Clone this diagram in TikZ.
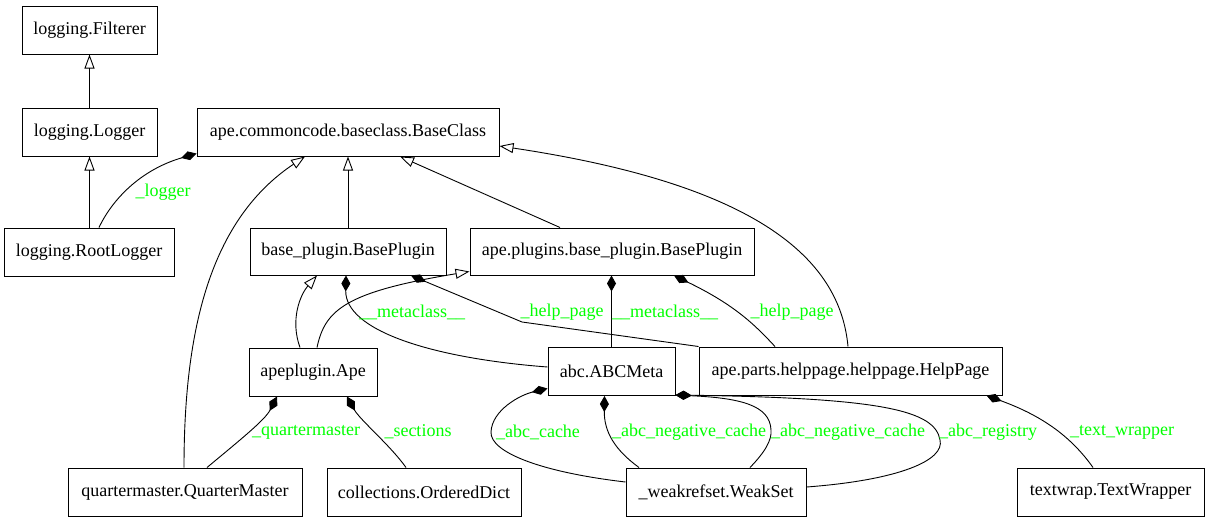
\documentclass[tikz,border=0pt]{standalone}
\usepackage{fontspec}
\newfontfamily\tms{LiberationSerif-Regular.ttf}
\usetikzlibrary{arrows.meta}
\definecolor{lblgreen}{RGB}{0,255,0}
\begin{document}
\begin{tikzpicture}[x=1pt,y=-1pt,
  box/.style={draw, line width=1pt, minimum height=48pt, inner sep=0pt, font=\tms\fontsize{18}{20}\selectfont},
  lbl/.style={text=lblgreen, font=\tms\fontsize{18}{20}\selectfont, inner sep=0pt},
  inh/.style={-{Triangle[open,length=14pt,width=10pt]}, line width=0.9pt},
  comp/.style={-{Diamond[length=16pt,width=9pt]}, line width=0.9pt}]
\useasboundingbox (0,0) rectangle (1209,523);
% nodes
\node[box, minimum width=135pt] (fil) at (89.5,30) {logging.Filterer};
\node[box, minimum width=135pt] (log) at (89.5,132) {logging.Logger};
\node[box, minimum width=170pt] (root) at (89,252) {logging.RootLogger};
\node[box, minimum width=302pt] (bc) at (348,132) {ape.commoncode.baseclass.BaseClass};
\node[box, minimum width=196pt, minimum height=47pt] (bp) at (348,251.5) {base\_plugin.BasePlugin};
\node[box, minimum width=284pt, minimum height=47pt] (apbp) at (612,251.5) {ape.plugins.base\_plugin.BasePlugin};
\node[box, minimum width=128pt] (ape) at (313,372) {apeplugin.Ape};
\node[box, minimum width=127pt] (abc) at (611.5,371.5) {abc.ABCMeta};
\node[box, minimum width=303pt] (help) at (850.5,371) {ape.parts.helppage.helppage.HelpPage};
\node[box, minimum width=234pt] (qm) at (185,492) {quartermaster.QuarterMaster};
\node[box, minimum width=194pt] (od) at (424,492) {collections.OrderedDict};
\node[box, minimum width=180pt] (ws) at (716,492) {\_weakrefset.WeakSet};
\node[box, minimum width=187pt] (tw) at (1110.5,492) {textwrap.TextWrapper};
% inheritance
\draw[inh] (log.north) -- (fil.south);
\draw[inh] (log.south |- root.north) -- (log.south);
\draw[inh] ([xshift=-1pt]qm.north) .. controls (184,330) and (210,220) .. ([xshift=-43pt]bc.south);
\draw[inh] (bp.north) -- (bc.south);
\draw[inh] ([xshift=-52pt]apbp.north) -- ([xshift=52pt]bc.south);
\draw[inh] ([xshift=-2.5pt]help.north) .. controls (840,260) and (760,185) .. ([yshift=-14pt]bc.east);
\draw[inh] ([xshift=-13pt]ape.north) .. controls (290,320) and (300,295) .. ([xshift=-31pt]bp.south);
\draw[inh] ([xshift=4pt]ape.north) .. controls (325,310) and (345,292) .. ([yshift=4pt]apbp.south west);
% composition
\draw[comp] ([xshift=10pt]root.north) .. controls (112,200) and (140,170) .. ([yshift=3pt]bc.south west);
\draw[comp] ([yshift=4.5pt]abc.west) .. controls (430,358) and (345,330) .. ([xshift=-2pt]bp.south);
\draw[comp] (help.north west) -- (522,322) -- ([xshift=63pt]bp.south);
\draw[comp] (abc.north) -- (abc.north |- apbp.south);
\draw[comp] ([xshift=-75.5pt]help.north) .. controls (755,325) and (735,305) .. ([xshift=62pt]apbp.south);
\draw[comp] ([xshift=22pt]qm.north) .. controls (240,440) and (265,420) .. ([xshift=-36pt]ape.south);
\draw[comp] ([xshift=-18pt]od.north) .. controls (390,445) and (360,420) .. ([xshift=34pt]ape.south);
\draw[comp] ([yshift=10pt]ws.west) .. controls (540,472) and (490,452) .. (491,432) .. controls (492,410) and (520,395) .. ([yshift=7.5pt]abc.south west);
\draw[comp] ([xshift=-77pt]ws.north) .. controls (615,450) and (604,432) .. ([xshift=-7pt]abc.south);
\draw[comp] ([xshift=34pt]ws.north) .. controls (765,452) and (772,440) .. (771,430) .. controls (770,405) and (740,398) .. ([yshift=1pt]abc.south east);
\draw[comp] ([yshift=5pt]ws.east) .. controls (900,480) and (945,460) .. (940,440) .. controls (935,410) and (880,398) .. ([yshift=1pt]abc.south east);
\draw[comp] ([xshift=-17.5pt]tw.north) .. controls (1070,435) and (1040,415) .. ([xshift=-16pt]help.south east);
% labels
\node[lbl] (l1) at (163,192) {\_logger};
\node[lbl] (l2) at (412,312) {\_\_metaclass\_\_};
\node[lbl] (l3) at (562,312) {\_help\_page};
\node[lbl] (l4) at (665,312) {\_\_metaclass\_\_};
\node[lbl] (l5) at (792,312) {\_help\_page};
\node[lbl] (l6) at (306,432) {\_quartermaster};
\node[lbl] (l7) at (418,432) {\_sections};
\node[lbl] (l8) at (538,432) {\_abc\_cache};
\node[lbl] (l9) at (689,432) {\_abc\_negative\_cache};
\node[lbl] (l10) at (848,432) {\_abc\_negative\_cache};
\node[lbl] (l11) at (988,432) {\_abc\_registry};
\node[lbl] (l12) at (1122,432) {\_text\_wrapper};
\end{tikzpicture}
\end{document}
